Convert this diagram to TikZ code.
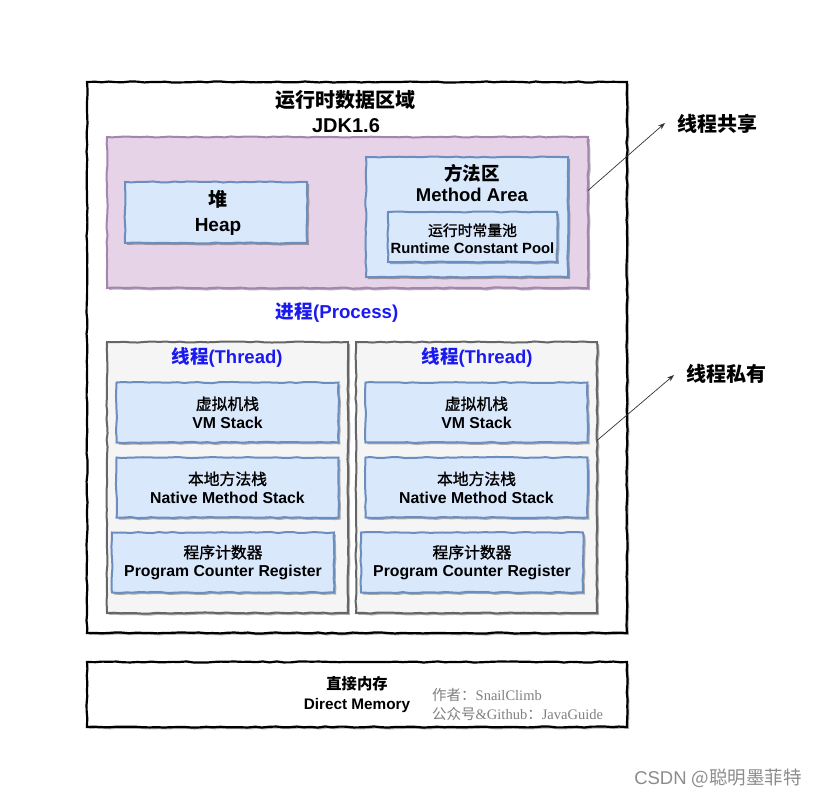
\documentclass[tikz,border=0pt]{standalone}
\usepackage{fontspec}
\setmainfont{Liberation Sans}
\newfontfamily\cjk{Noto Sans CJK SC}
\newfontfamily\cjkm[FakeBold=1.2]{Noto Sans CJK SC}
\newfontfamily\serifl{Liberation Serif}
\newcommand\zhf[1]{{\cjk #1}}
\newcommand\zhm[1]{{\cjkm\mdseries #1}}
\usetikzlibrary{decorations.pathmorphing,shadows,arrows.meta}
\definecolor{purplefill}{HTML}{E6D3E7}
\definecolor{purpleline}{HTML}{A286B0}
\definecolor{bluefill}{HTML}{DAE8FC}
\definecolor{blueline}{HTML}{6C8EBF}
\definecolor{grayfill}{HTML}{F5F5F5}
\definecolor{grayline}{HTML}{666666}
\definecolor{labelblue}{HTML}{1A1AF0}
\tikzset{
  sketch/.style={decorate, decoration={random steps, segment length=7pt, amplitude=0.55pt}},
  box/.style={rectangle, inner sep=0pt, outer sep=0pt, sketch, line width=2pt, align=center},
  shad/.style={drop shadow={shadow xshift=2pt, shadow yshift=-2pt, opacity=0.3, fill=black}},
  outerbox/.style={box, draw=black, line width=2.2pt, fill=white, shad},
  purplebox/.style={box, draw=purpleline, fill=purplefill, shad},
  bluebox/.style={box, draw=blueline, fill=bluefill, shad},
  threadbox/.style={box, draw=grayline, fill=grayfill, shad},
  txt/.style={inner sep=0pt, align=center, font=\bfseries},
  conn/.style={draw=black!80, line width=0.7pt, -{Stealth[length=7pt,width=5pt]}},
}
\begin{document}
\begin{tikzpicture}[x=1pt,y=-1pt]
\pgfmathsetseed{7}
\useasboundingbox (0,0) rectangle (818,797);
\fill[white] (0,0) rectangle (818,797);
% outer
\node[outerbox, minimum width=540pt, minimum height=551pt] (outer) at (357,357.5) {};
\node[txt, font=\fontsize{20}{22}\selectfont\bfseries] (title) at (345,100) {\zhf{运行时数据区域}};
\node[txt, font=\fontsize{20}{22}\selectfont\bfseries] (jdk) at (346,126) {JDK1.6};
% shared area
\node[purplebox, minimum width=481pt, minimum height=151pt] (purple) at (347.5,212.5) {};
\node[bluebox, minimum width=182pt, minimum height=61pt] (heap) at (216,212.5) {};
\node[txt, font=\fontsize{19}{25}\selectfont\bfseries] (heapt) at (218,213) {\zhf{堆}\\Heap};
\node[bluebox, minimum width=202pt, minimum height=120pt] (method) at (467,217) {};
\node[txt, font=\fontsize{18.5}{21}\selectfont\bfseries] (methodt) at (472,183.5) {\zhf{方法区}\\Method Area};
\node[bluebox, minimum width=169pt, minimum height=50pt] (pool) at (472.5,237) {};
\node[txt, font=\fontsize{14.8}{17.5}\selectfont\bfseries] (poolt) at (472.5,238.5) {\zhm{运行时常量池}\\Runtime Constant Pool};
% process
\node[txt, text=labelblue, font=\fontsize{18.7}{21}\selectfont\bfseries] (process) at (337,313) {\zhf{进程}(Process)};
% threads
\node[threadbox, minimum width=241pt, minimum height=271pt] (th1) at (227.5,477.5) {};
\node[threadbox, minimum width=241pt, minimum height=271pt] (th2) at (476.5,477.5) {};
\node[txt, text=labelblue, font=\fontsize{18.5}{21}\selectfont\bfseries] (th1t) at (227,357) {\zhf{线程}(Thread)};
\node[txt, text=labelblue, font=\fontsize{18.5}{21}\selectfont\bfseries] (th2t) at (477,357) {\zhf{线程}(Thread)};
\tikzset{inner/.style={bluebox, minimum width=222pt, minimum height=60pt, font=\fontsize{15.8}{18.5}\selectfont\bfseries}}
\node[inner] (vm1) at (227.5,412.5) {\zhm{虚拟机栈}\\VM Stack};
\node[inner] (nm1) at (227.5,487.5) {\zhm{本地方法栈}\\Native Method Stack};
\node[inner] (pc1) at (223,562.5) {\zhm{程序计数器}\\Program Counter Register};
\node[inner] (vm2) at (476.5,412.5) {\zhm{虚拟机栈}\\VM Stack};
\node[inner] (nm2) at (476.5,487.5) {\zhm{本地方法栈}\\Native Method Stack};
\node[inner] (pc2) at (472,562.5) {\zhm{程序计数器}\\Program Counter Register};
% direct memory
\node[outerbox, minimum width=540pt, minimum height=65pt] (direct) at (357,694.5) {};
\node[txt, font=\fontsize{15.3}{20}\selectfont\bfseries] (directt) at (357,695) {\zhf{直接内存}\\Direct Memory};
\node[inner sep=0pt, anchor=west, text=black!50, font=\fontsize{14.5}{16}\selectfont] (author) at (432,695) {{\cjk 作者：}{\serifl SnailClimb}};
\node[inner sep=0pt, anchor=west, text=black!50, font=\fontsize{14.5}{16}\selectfont] (guide) at (432,714) {{\cjk 公众号}{\serifl \&Github}{\cjk ：}{\serifl JavaGuide}};
% labels
\node[txt, anchor=west, font=\fontsize{20}{22}\selectfont\bfseries] (shared) at (677,124) {\zhf{线程共享}};
\node[txt, anchor=west, font=\fontsize{20}{22}\selectfont\bfseries] (private) at (686,374) {\zhf{线程私有}};
\coordinate (tip1) at (665,123);
\coordinate (tip2) at (674,375);
\draw[conn] ([yshift=22pt]purple.east) -- (tip1);
\draw[conn] ([yshift=37pt]th2.east) -- (tip2);
% watermark
\node[inner sep=0pt, anchor=east, text=black!45, font=\fontsize{18.5}{20}\selectfont] (csdn) at (802,778) {CSDN {\cjk @聪明墨菲特}};
\end{tikzpicture}
\end{document}
